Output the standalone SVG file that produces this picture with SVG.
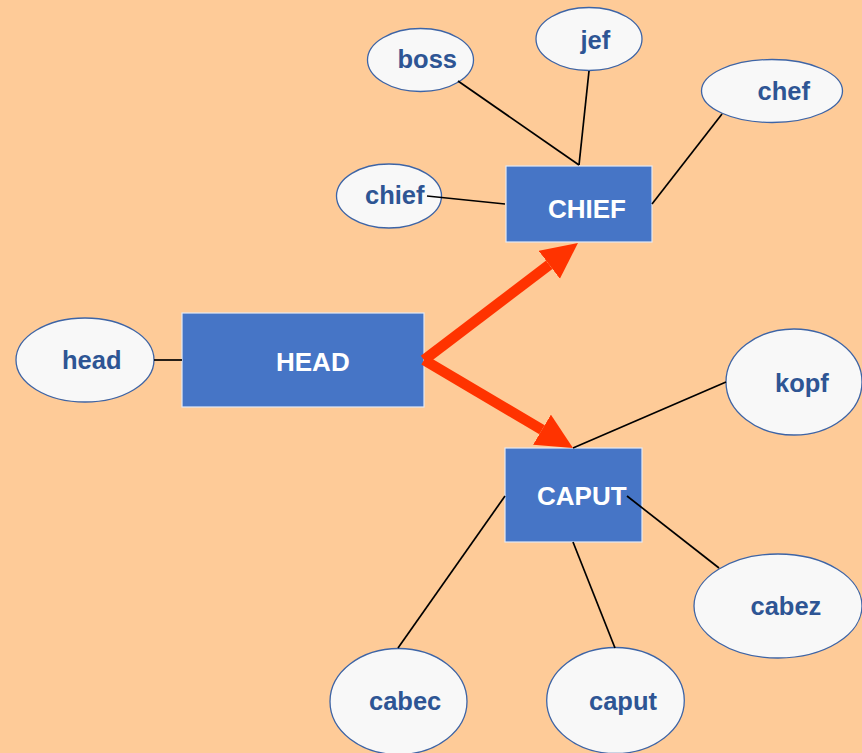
<svg xmlns="http://www.w3.org/2000/svg" width="862" height="753" viewBox="0 0 862 753">
  <style>
    .box { fill: #4675C6; stroke: #E4E9F4; stroke-width: 1.2; }
    .box-label { font-family: "Liberation Sans", Arial, sans-serif; font-weight: bold; font-size: 26px; fill: #FFFFFF; }
    .word { fill: #F8F8F8; stroke: #3D64A6; stroke-width: 1.3; }
    .word-label { font-family: "Liberation Sans", Arial, sans-serif; font-weight: bold; font-size: 25.5px; fill: #2E5594; }
    .link { stroke: #000000; stroke-width: 1.7; fill: none; }
    .flow { stroke: #FF3300; stroke-width: 10.5; fill: none; marker-end: url(#big-head); }
  </style>
  <defs>
    <marker id="big-head" markerUnits="userSpaceOnUse" markerWidth="37" markerHeight="36" refX="0" refY="17.5" orient="auto" viewBox="0 0 37 36">
      <path d="M0,0 L36,17.5 L0,35 Z" fill="#FF3300"/>
    </marker>
  </defs>

  <rect width="862" height="753" fill="#FECB98"/>

  <!-- concept boxes -->
  <g id="HEAD">
    <rect class="box" x="182" y="313" width="242" height="94"/>
    <text class="box-label" x="276" y="371">HEAD</text>
  </g>
  <g id="CHIEF">
    <rect class="box" x="506" y="166" width="146" height="76"/>
    <text class="box-label" x="548" y="218">CHIEF</text>
  </g>
  <g id="CAPUT">
    <rect class="box" x="505" y="448" width="137" height="94"/>
    <text class="box-label" x="537" y="505">CAPUT</text>
  </g>

  <!-- word ellipses -->
  <g id="head">
    <ellipse class="word" cx="85" cy="360" rx="69" ry="42"/>
    <text class="word-label" x="62" y="369">head</text>
  </g>
  <g id="boss">
    <ellipse class="word" cx="420.5" cy="60" rx="53" ry="31.5"/>
    <text class="word-label" x="397.5" y="68">boss</text>
  </g>
  <g id="jef">
    <ellipse class="word" cx="589" cy="39" rx="53" ry="31.5"/>
    <text class="word-label" x="580.5" y="49">jef</text>
  </g>
  <g id="chief">
    <ellipse class="word" cx="389" cy="196" rx="52.5" ry="32"/>
    <text class="word-label" x="365" y="204">chief</text>
  </g>
  <g id="chef">
    <ellipse class="word" cx="772" cy="91" rx="70.5" ry="31.5"/>
    <text class="word-label" x="757.5" y="100">chef</text>
  </g>
  <g id="kopf">
    <ellipse class="word" cx="794" cy="382" rx="68" ry="53"/>
    <text class="word-label" x="775" y="392">kopf</text>
  </g>
  <g id="cabez">
    <ellipse class="word" cx="778" cy="606" rx="84" ry="52"/>
    <text class="word-label" x="750.5" y="615">cabez</text>
  </g>
  <g id="caput">
    <ellipse class="word" cx="615.5" cy="700.5" rx="68.8" ry="53"/>
    <text class="word-label" x="589" y="710">caput</text>
  </g>
  <g id="cabec">
    <ellipse class="word" cx="398.5" cy="701.5" rx="68.5" ry="53"/>
    <text class="word-label" x="369" y="710">cabec</text>
  </g>

  <!-- connectors, drawn over the shapes -->
  <g id="connectors">
    <line class="link" x1="154" y1="360" x2="182" y2="360"/>
    <line class="link" x1="458" y1="81" x2="579" y2="165"/>
    <line class="link" x1="589" y1="71" x2="579" y2="165"/>
    <line class="link" x1="427" y1="196" x2="505" y2="204"/>
    <line class="link" x1="722" y1="114" x2="652" y2="204"/>
    <line class="link" x1="726" y1="382" x2="573" y2="448"/>
    <line class="link" x1="505" y1="496" x2="398" y2="648"/>
    <line class="link" x1="573" y1="542" x2="615" y2="648"/>
    <line class="link" x1="627" y1="496" x2="719" y2="568"/>
    <line class="flow" x1="424" y1="360" x2="549.3" y2="264.8"/>
    <line class="flow" x1="424" y1="360" x2="542" y2="429.7"/>
  </g>
</svg>
